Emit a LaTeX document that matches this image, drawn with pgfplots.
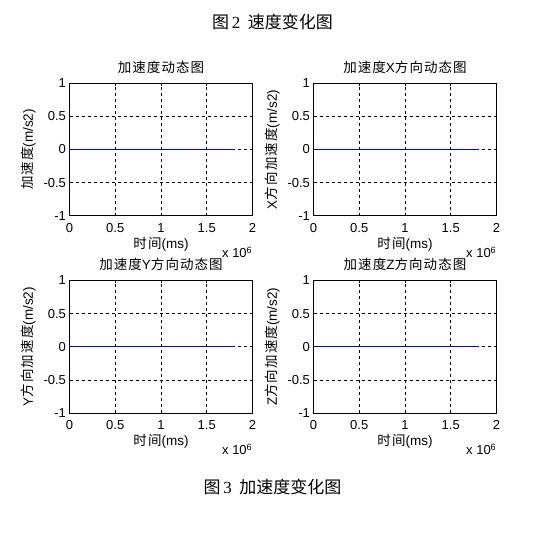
\documentclass[border=0pt]{standalone}
\usepackage{pgfplots}
\pgfplotsset{compat=1.18}
\usepackage{fontspec}
\setmainfont{Liberation Sans}
\newfontfamily\cjkbig{Noto Sans CJK SC}
\newfontfamily\cjk[LetterSpace=8]{Noto Sans CJK SC}
\newfontfamily\serifnum{Liberation Serif}

% MATLAB-like subplot style, 1pt = 1px of the reference
\pgfplotsset{mstyle/.style={
    scale only axis,
    width=183pt, height=132.5pt,
    xmin=0, xmax=2000000, ymin=-1, ymax=1,
    xtick={0,500000,1000000,1500000,2000000},
    ytick={-1,-0.5,0,0.5,1},
    scaled x ticks=base 10:-6,
    xtick scale label code/.code={x 10\textsuperscript{6}},
    every x tick scale label/.style={at={(rel axis cs:1,0)}, anchor=north east,
        yshift=-27pt, inner sep=0pt},
    grid=major,
    major grid style={black, line width=0.6pt, dash pattern=on 3pt off 3pt},
    tick align=inside, major tick length=3pt,
    axis line style={black, line width=0.7pt},
    tick style={black, line width=0.6pt},
    /pgf/number format/assume math mode=true,
    ticklabel style={font=\fontsize{13}{13}\selectfont},
    xticklabel style={yshift=-4pt},
    title style={at={(axis description cs:0.5,1)}, anchor=base, yshift=5pt,
        inner sep=0pt, font=\fontsize{13.5}{13.5}\selectfont},
    xlabel style={at={(axis description cs:0.5,0)}, anchor=base, yshift=-33pt,
        inner sep=0pt, font=\fontsize{13.5}{13.5}\selectfont},
    ylabel style={at={(axis description cs:-0.224,0.5)}, anchor=center,
        inner sep=0pt, font=\fontsize{13.5}{13.5}\selectfont},
    xlabel={{\cjk 时间}(ms)},
}}

\begin{document}
\begin{tikzpicture}
\useasboundingbox (0pt,0pt) rectangle (545pt,534pt);

\node[font=\fontsize{17}{17}\selectfont] at (272.5pt,512pt) {{\cjkbig 图}\,{\serifnum 2}\, {\cjkbig 速度变化图}};
\node[font=\fontsize{17}{17}\selectfont] at (272.5pt,47pt) {{\cjkbig 图}\,{\serifnum 3}\, {\cjkbig 加速度变化图}};

\begin{axis}[mstyle, at={(69.5pt,318.25pt)}, anchor=south west,
    title={\cjk 加速度动态图},
    ylabel={{\cjk 加速度}(m/s2)}]
\addplot[blue, line width=1.1pt] coordinates {(0,0) (1800000,0)};
\end{axis}

\begin{axis}[mstyle, at={(313.5pt,318.25pt)}, anchor=south west,
    title={{\cjk 加速度}X{\cjk 方向动态图}},
    ylabel={X{\cjk 方向加速度}(m/s2)}]
\addplot[blue, line width=1.1pt] coordinates {(0,0) (1800000,0)};
\end{axis}

\begin{axis}[mstyle, at={(69.5pt,121pt)}, anchor=south west,
    title={{\cjk 加速度}Y{\cjk 方向动态图}},
    ylabel={Y{\cjk 方向加速度}(m/s2)}]
\addplot[blue, line width=1.1pt] coordinates {(0,0) (1800000,0)};
\end{axis}

\begin{axis}[mstyle, at={(313.5pt,121pt)}, anchor=south west,
    title={{\cjk 加速度}Z{\cjk 方向动态图}},
    ylabel={Z{\cjk 方向加速度}(m/s2)}]
\addplot[blue, line width=1.1pt] coordinates {(0,0) (1800000,0)};
\end{axis}
\end{tikzpicture}
\end{document}
